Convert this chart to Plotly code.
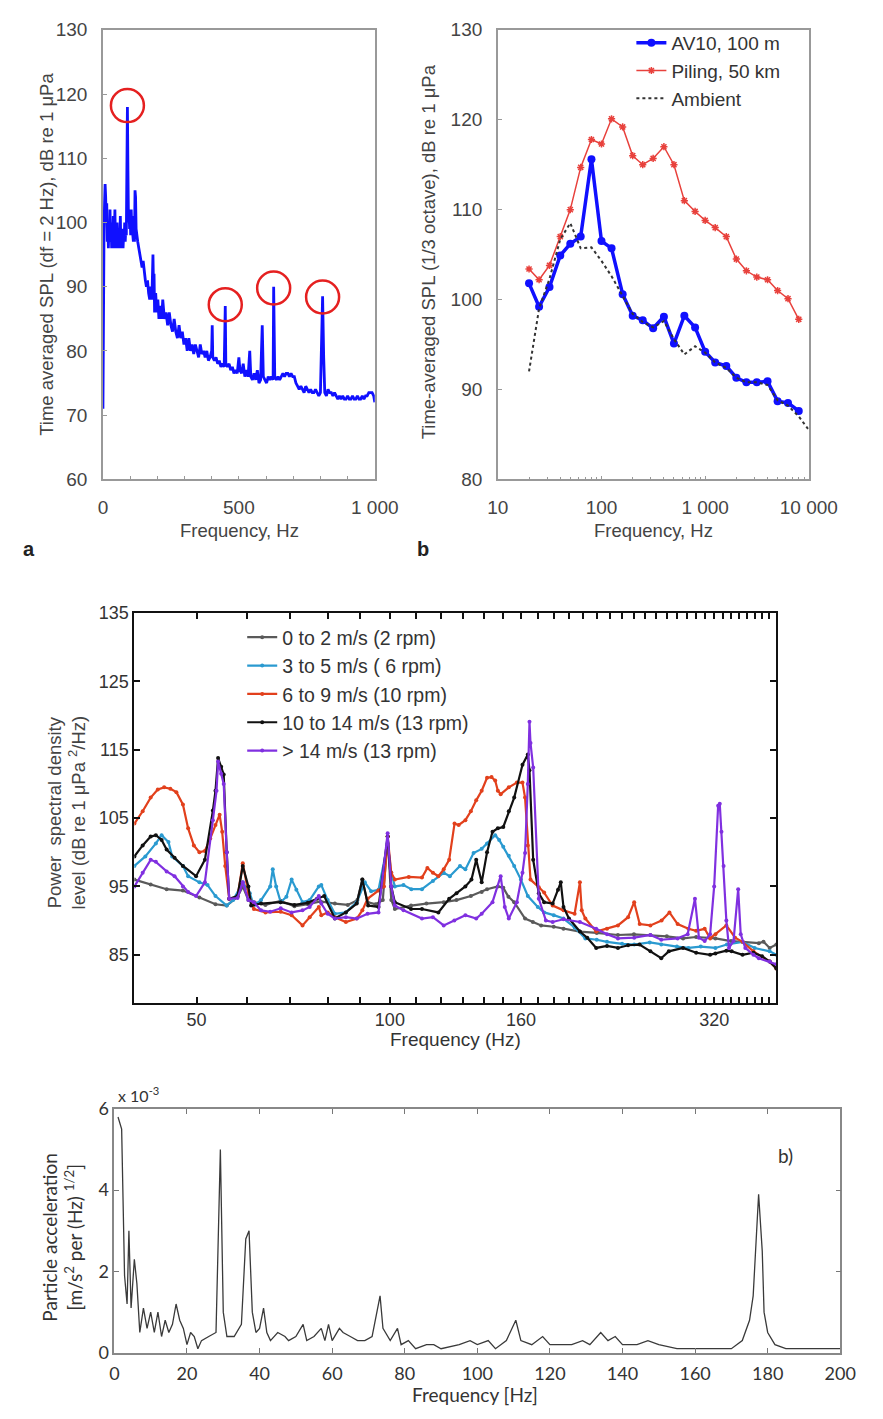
import plotly.graph_objects as go

# page body keeps its default 8px margin, so the figure is 16px smaller than the window
PAGE_W, PAGE_H, BODY_M = 883, 1419, 8
W, H = PAGE_W - 2 * BODY_M, PAGE_H - 2 * BODY_M
def px(x): return (x - BODY_M) / W
def py(y): return 1 - (y - BODY_M) / H

# ---------------- Panel a : narrow-band spectrum ----------------
a_freq = [0, 2, 4, 6, 8, 10, 12, 14, 16, 18, 20, 22, 24, 26, 28, 30, 32, 34, 36, 38, 40, 42, 44, 46, 48, 50,
          52, 54, 56, 58, 60, 62, 64, 66, 68, 70, 72, 74, 76, 78, 80, 82, 84, 86, 88, 90, 92, 94, 96, 98, 100,
          102, 104, 106, 108, 110, 112, 114, 116, 118, 120, 122, 124, 128, 132, 136, 140, 144, 148, 152, 156,
          160, 164, 168, 172, 176, 180, 184, 186, 188, 190, 194, 198, 202, 206, 210, 216, 220, 226, 232, 238,
          244, 250, 256, 262, 268, 274, 280, 286, 292, 298, 304, 310, 316, 322, 328, 334, 340, 346, 352, 358,
          364, 370, 376, 382, 388, 394, 400, 402, 404, 410, 416, 422, 428, 434, 440, 446, 448, 450, 452, 458,
          464, 470, 476, 482, 488, 494, 500, 504, 510, 516, 522, 528, 534, 540, 544, 550, 556, 562, 568, 574,
          580, 586, 590, 596, 602, 608, 614, 620, 626, 628, 632, 638, 644, 650, 656, 662, 668, 674, 680, 686,
          692, 698, 704, 710, 716, 722, 728, 734, 740, 746, 752, 758, 764, 770, 776, 782, 788, 794, 800, 804,
          808, 812, 816, 822, 828, 834, 840, 846, 852, 858, 864, 870, 876, 882, 888, 894, 900, 906, 912, 918,
          924, 930, 936, 942, 948, 954, 960, 966, 972, 978, 984, 990, 996, 1000]
a_spl = [71, 97, 99, 103, 106, 104, 100, 103, 97, 100, 96, 99, 97, 102, 97, 100, 96, 99, 97, 101, 96, 98, 102, 97, 99, 96,
         100, 97, 98, 96, 99, 97, 101, 96, 98, 97, 99, 96, 98, 97, 100, 97, 99, 98, 104, 118, 108, 100, 102, 99, 101,
         98, 102, 99, 101, 98, 97, 99, 97, 105, 104, 99, 98, 97, 96, 95, 94, 93, 94, 92, 91,
         90, 91, 89, 88, 90, 88, 95, 90, 92, 86, 89, 86, 88, 85, 87, 85, 88, 85, 86, 84,
         86, 84, 83, 85, 83, 82, 84, 82, 83, 81, 82, 80, 82, 80, 81, 79.5, 81, 80, 79, 81,
         79.5, 80, 79, 80, 78.5, 79, 80, 84, 79, 78.5, 79, 78, 78.5, 77.5, 78, 77.5, 82, 87, 78, 77.5,
         78, 77, 77.5, 76.5, 77, 76.5, 79, 77, 76.5, 78, 76, 77, 76, 80, 76, 75.5, 76.5, 75.5, 77, 75,
         75.5, 84, 76, 75.5, 75, 76, 75.5, 76, 75.5, 90, 76, 75.5, 76, 75.5, 76, 76.5, 76, 76.5, 76.5, 76,
         76.5, 76, 76, 75, 74.5, 74, 74.5, 74, 73.5, 74.5, 74, 73.5, 74, 73.5, 73.5, 74, 73.5, 73, 73.5, 80,
         88.5, 79, 73.5, 73, 74, 73.5, 73.5, 73, 73.5, 73, 72.5, 73, 72.5, 73, 72.5, 72.5, 73, 72.5, 72.5, 73,
         72.5, 72.5, 73, 72.5, 72.5, 73, 72.5, 73, 73, 73.5, 73.5, 73.5, 73, 72]
a_peak_freq = [90, 450, 628, 808]
a_peak_spl = [118.2, 87.2, 89.8, 88.4]

# ---------------- Panel b : 1/3 octave ----------------
b_bands = [20, 25, 31.5, 40, 50, 63, 80, 100, 125, 160, 200, 250, 315, 400, 500, 630, 800, 1000,
           1250, 1600, 2000, 2500, 3150, 4000, 5000, 6300, 8000]
b_av10 = [101.8, 99.2, 101.4, 104.9, 106.2, 107.0, 115.6, 106.5, 105.7, 100.6, 98.2, 97.7, 96.8, 98.1,
          95.1, 98.2, 96.9, 94.2, 93.0, 92.6, 91.3, 90.8, 90.8, 90.9, 88.7, 88.5, 87.6]
b_piling = [103.4, 102.2, 103.8, 107.0, 110.0, 114.7, 117.8, 117.3, 120.1, 119.2, 116.0, 115.0, 115.7,
            117.0, 115.0, 111.0, 109.8, 108.8, 108.0, 107.0, 104.5, 103.2, 102.5, 102.2, 101.0, 100.1, 97.8]
b_amb_bands = [20, 25, 31.5, 40, 50, 63, 80, 100, 125, 160, 200, 250, 315, 400, 500, 630, 800, 1000,
               1250, 1600, 2000, 2500, 3150, 4000, 5000, 6300, 8000, 10000]
b_ambient = [92.0, 99.0, 102.3, 106.7, 108.5, 105.7, 105.8, 104.3, 102.6, 100.4, 98.4, 97.5, 96.9, 97.6,
             95.6, 93.9, 94.8, 94.1, 93.0, 92.4, 91.3, 90.8, 90.8, 90.5, 88.8, 88.2, 87.0, 85.5]
b_tick_vals = [10, 100, 1000, 10000]
b_tick_text = ["10", "100", "1 000", "10 000"]

# ---------------- Middle panel : PSD per wind speed ----------------
mid_names = ["0 to 2 m/s (2 rpm)", "3 to 5 m/s ( 6 rpm)", "6 to 9 m/s (10 rpm)",
             "10 to 14 m/s (13 rpm)", "> 14 m/s (13 rpm)"]
mid_colors = ["#5a5a5a", "#2a9ad0", "#e2401c", "#111111", "#8030e0"]

g_f = [40, 42.4, 44.9, 47.6, 50.5, 53.5, 55.7, 57.9, 59, 60.2, 61.4, 64, 67.6, 71, 74.5, 78, 82.1, 86, 89,
       90.6, 92.3, 95, 97.5, 99.2, 100.5, 101.8, 107.9, 114, 121.3, 127, 133.7, 139, 141.7, 147.3, 150.2,
       153, 156.2, 162.4, 167, 172, 180, 186.4, 197.7, 210, 226.6, 240, 254.6, 270, 286.2, 300, 321.5,
       340, 354.3, 375.6, 382, 390.5, 400]
g_v = [96, 95.3, 94.6, 94.4, 93.4, 92.4, 92.2, 93.5, 95, 93, 92.7, 92.3, 92.9, 92.1, 92.4, 92.8, 92.5,
       92.3, 93, 96, 92.7, 92.4, 93, 102.3, 93, 91.7, 92.2, 92.5, 92.7, 93, 93.6, 94.2, 94.6, 95, 94.8,
       93.5, 92.7, 90.3, 89.8, 89.3, 89.1, 88.8, 88.4, 88.2, 87.9, 88, 87.9, 87.7, 87.4, 87.6, 87.4,
       87, 86.9, 86.7, 86.9, 86, 86.5]

c_f = [40, 41.6, 43.2, 44.1, 45.2, 45.8, 47.6, 48.5, 50.5, 52, 53.5, 55.7, 57, 59, 60.5, 61.4, 63, 65.1,
       65.7, 66.5, 67.6, 69, 70.3, 71.5, 73.1, 75, 77.5, 78.2, 80, 82.1, 85.4, 88.8, 91.4, 93.5, 96, 99.2,
       100.5, 101.8, 105, 108, 112.2, 116.7, 121.3, 124, 128.6, 131.1, 135, 139, 141.7, 145.9, 148, 150.2,
       153.2, 156.2, 160, 164, 170, 173.9, 180, 186.4, 194, 201.6, 210, 217.9, 230, 240.2, 254, 264.7,
       280, 291.8, 305, 321.5, 335, 354.3, 370, 390.5, 400]
c_v = [98, 99.4, 101.3, 102.5, 101.5, 99.4, 98, 96.5, 95.6, 95.2, 93.6, 92.2, 93, 95.6, 94, 92.2, 93, 95,
       97.5, 95, 92.7, 93.5, 96, 94.5, 92.7, 93, 95, 95.2, 93, 91, 91.2, 92.7, 95.6, 94.3, 94.5, 101.3,
       97, 95, 95.2, 94.6, 94.6, 95.8, 97, 96.5, 98, 97.5, 99.9, 100.5, 101.3, 102.5, 101.8, 100.8,
       99.5, 98, 96, 93.6, 92, 91.2, 90.8, 90.3, 89, 87.4, 87.2, 86.9, 86.6, 86.5, 86.8, 86.5,
       86.2, 86, 86.2, 86, 86.5, 86.9, 86, 85.5, 85]

r_f = [40, 41.2, 42.4, 43.5, 44.5, 45.5, 46.5, 47.6, 48.5, 49.5, 50.5, 51.5, 52.5, 53.5, 54.3, 54.8, 55.4,
       56.2, 57.9, 59, 60.2, 61.4, 64, 67.6, 70.3, 73.1, 75, 77.5, 78.2, 80, 82.1, 85.4, 88.8, 90.6, 92.3,
       96, 97.9, 99.2, 100.5, 101.8, 107, 112.2, 114.4, 116.7, 119, 121.3, 123.7, 126.1, 128, 131.1, 133.7,
       136.3, 139, 141.7, 144, 145.9, 147.3, 148.8, 153.2, 157.7, 160.9, 162.4, 164, 165.6, 170.6, 173.9,
       179.3, 186.4, 194, 197.7, 199, 201.6, 209.6, 217.9, 226.6, 235, 240.2, 245, 254.6, 265, 272.6,
       280.7, 291.8, 300, 309.3, 315.4, 321.5, 334.3, 345, 354.3, 368.4, 390.5, 400]
r_v = [104.2, 106, 108, 109.2, 109.5, 109.3, 108.8, 107, 103.5, 101, 100, 100.2, 102, 104, 105.5, 103, 98,
       93.2, 93.5, 98.4, 94, 91.7, 91.2, 91.3, 90.8, 89.3, 90.5, 92, 90.8, 91.2, 90.5, 89.8, 90.3, 91.5, 93.2,
       94.4, 95, 102.3, 97, 96, 96.4, 96.3, 97.7, 97, 96.5, 97.5, 98.9, 104.2, 104, 104.7, 106,
       107.6, 109, 110.9, 111, 110.5, 109, 108.5, 109.5, 110.2, 110.2, 108, 101, 96, 94.9, 94.1,
       92.2, 91.5, 91, 95.6, 91.5, 90.3, 88.4, 88.8, 89.3, 90.5, 92.7, 89.5, 89.3, 90, 91.2,
       89.5, 88.8, 88.5, 88.8, 87.4, 88, 89.3, 87.5, 86.9, 85.5, 84, 83]

k_f = [40, 41.2, 42.4, 43.2, 44.1, 44.9, 46.2, 47.6, 49.9, 51.5, 53, 53.5, 54, 54.6, 55.1, 55.7, 56.2, 57.9,
       59, 60.2, 60.8, 63, 67.6, 71, 74.5, 77, 79, 82.1, 85.4, 88.8, 90.6, 92.5, 96, 99.2, 100.5, 101.8,
       107.9, 112.2, 119, 123.7, 127, 131.1, 134, 136.3, 139, 141.7, 144.5, 147.3, 150.2, 153.2, 156.2,
       160.9, 164, 165, 167.2, 170.6, 173.9, 179.3, 182.8, 184.6, 186.4, 190.1, 197.7, 203, 209.6, 217.9,
       226.6, 235, 244.9, 254.6, 264.7, 272, 286.2, 300, 315.4, 321.5, 334.3, 340.8, 354.3, 368.4, 380,
       390.5, 400]
k_v = [99.4, 101, 102.3, 102.5, 101.8, 100.4, 99.2, 98, 96.5, 98.9, 106.1, 109, 113.8, 112.5, 111.4, 100,
       93.2, 93.6, 98, 95, 92.2, 92.5, 92.7, 92.3, 92.6, 93.2, 93.6, 90.3, 91.2, 92.5, 96, 92.2, 92,
       102.3, 95, 92.7, 91.7, 91.7, 91.2, 93.2, 94, 95, 96, 98.9, 95.6, 100, 103, 103.5, 103.7, 106,
       108, 112.8, 114.3, 112, 98.9, 94, 92.7, 92.5, 94.5, 95.6, 92, 90.3, 88.4, 87.5, 86, 86.3,
       86, 86.4, 86.5, 85.5, 84.5, 85.5, 86, 85.3, 85, 85.2, 85.6, 85.5, 85, 85.3, 84.8, 84, 83]

p_f = [40, 41.2, 42.4, 43.2, 44.9, 46.2, 47.6, 48.5, 49.9, 51.5, 53, 53.7, 54, 54.6, 55.1, 55.7, 56.2,
       57.9, 59, 60.2, 61.4, 63, 65.1, 67.6, 70.3, 73.1, 75, 77.5, 78.2, 80, 82.1, 85.4, 88.8, 92.3, 96,
       99.2, 100.5, 101.8, 105, 112.2, 116.7, 121.3, 126, 131.1, 136.3, 139, 144.5, 148.8, 151, 153.2,
       157.7, 160.9, 162.4, 164, 165, 165.6, 167.2, 170.6, 175, 179.3, 186.4, 197.7, 209.6, 217.9, 226.6,
       240.2, 254.6, 264.7, 280.7, 291, 298.7, 303, 309.3, 315.4, 320, 324.6, 326.5, 328.5, 331, 334.3,
       337.5, 343, 348.8, 352, 357.8, 368.4, 375.6, 390.5, 400]
p_v = [95, 97, 98.9, 98.6, 97.2, 96.5, 95, 94.2, 93.6, 95.6, 104.7, 109, 113.3, 111.5, 110, 100, 93.2,
       93.3, 95.6, 93, 92.7, 91.5, 91.3, 91.8, 91.2, 91.5, 92, 93.6, 92.5, 91, 90.3, 90.5, 90.3, 91, 91.2,
       102.8, 95, 92.2, 91.5, 90.3, 90.5, 89.3, 90, 90.8, 90.3, 91, 92.7, 96.5, 92, 90.3,
       92.7, 97, 99.9, 110, 119.1, 116, 112.4, 93.2, 90, 89.8, 90.2, 89.8, 88.8, 88, 87.4,
       87.5, 87.9, 87.2, 87.4, 88, 93.2, 87.5, 87, 88, 95, 106.8, 107.1, 103, 98, 90,
       86, 87, 94.6, 88, 86, 85, 84.5, 84, 83.6]

mid_freqs = [g_f, c_f, r_f, k_f, p_f]
mid_levels = [g_v, c_v, r_v, k_v, p_v]
mid_tick_step_vals = list(range(40, 401, 10))
mid_tick_labels = [50, 100, 160, 320]

# ---------------- Bottom panel : particle acceleration ----------------
acc_f = [1, 2, 2.8, 3.5, 4, 4.6, 5.5, 6.2, 7, 8, 9, 10, 11, 12, 13, 14, 15, 16, 17, 18, 19, 20, 21, 22, 23,
         24, 26, 28, 29.2, 30, 31, 33, 35, 36.2, 37.1, 38, 39, 40, 41.1, 42, 43, 45, 47, 48, 50, 52, 53, 55,
         57, 58, 59, 60, 62, 63, 65, 67, 69, 71, 73.2, 74, 76, 78, 79, 81, 83, 86, 88, 90, 95, 98, 100, 103,
         105, 108, 110.6, 112, 115, 118, 120, 123, 126, 129, 131, 134, 136, 138, 140, 144, 147, 150, 155,
         160, 165, 170, 173, 175, 176, 177, 177.5, 178.5, 179, 180, 182, 185, 190, 195, 200]
acc_e3 = [5.8, 5.5, 1.9, 1.2, 3.0, 1.1, 2.3, 1.7, 0.5, 1.1, 0.6, 1.0, 0.5, 1.0, 0.4, 0.8, 0.5, 0.7, 1.2, 0.8,
          0.6, 0.2, 0.5, 0.4, 0.1, 0.3, 0.4, 0.5, 5.0, 1.0, 0.4, 0.4, 0.7, 2.8, 3.0, 1.0, 0.5, 0.6, 1.1,
          0.5, 0.3, 0.5, 0.4, 0.3, 0.4, 0.7, 0.3, 0.4, 0.6, 0.3, 0.7, 0.3, 0.6, 0.5, 0.4, 0.3, 0.3, 0.4,
          1.4, 0.6, 0.3, 0.6, 0.2, 0.3, 0.1, 0.2, 0.2, 0.1, 0.2, 0.3, 0.2, 0.3, 0.1, 0.3, 0.8, 0.3, 0.2,
          0.4, 0.2, 0.2, 0.2, 0.3, 0.2, 0.5, 0.3, 0.4, 0.2, 0.2, 0.3, 0.2, 0.1, 0.1, 0.1, 0.1, 0.3, 0.8,
          1.4, 3.0, 3.9, 2.5, 1.0, 0.5, 0.2, 0.1, 0.1, 0.1, 0.1]

fig = go.Figure()

# panel a
fig.add_trace(go.Scatter(x=a_freq, y=a_spl, mode="lines", line=dict(color="#1010ff", width=2.8),
                         xaxis="x", yaxis="y", showlegend=False))
fig.add_trace(go.Scatter(x=a_peak_freq, y=a_peak_spl, mode="markers",
                         marker=dict(symbol="circle-open", size=33, color="#e52020", line=dict(width=2.5)),
                         xaxis="x", yaxis="y", showlegend=False))

# panel b
fig.add_trace(go.Scatter(x=b_bands, y=b_av10, mode="lines+markers", name="AV10, 100 m",
                         line=dict(color="#1010ff", width=3.5), marker=dict(size=8, color="#1010ff"),
                         xaxis="x2", yaxis="y2", legend="legend"))
fig.add_trace(go.Scatter(x=b_bands, y=b_piling, mode="lines+markers", name="Piling, 50 km",
                         line=dict(color="#e8413c", width=1.5),
                         marker=dict(symbol="asterisk-open", size=6, color="#e8413c", line=dict(width=1.5, color="#e8413c")),
                         xaxis="x2", yaxis="y2", legend="legend"))
fig.add_trace(go.Scatter(x=b_amb_bands, y=b_ambient, mode="lines", name="Ambient",
                         line=dict(color="#333333", width=2, dash="dot"),
                         xaxis="x2", yaxis="y2", legend="legend"))

# middle
for name, col, fx, lv in zip(mid_names, mid_colors, mid_freqs, mid_levels):
    fig.add_trace(go.Scatter(x=fx, y=lv, mode="lines+markers", name=name,
                             line=dict(color=col, width=2.2), marker=dict(size=4, color=col),
                             xaxis="x3", yaxis="y3", legend="legend2"))

# bottom
fig.add_trace(go.Scatter(x=acc_f, y=acc_e3, mode="lines", line=dict(color="#3a3a3a", width=1.3),
                         xaxis="x4", yaxis="y4", showlegend=False))

TOPFONT = dict(family="Liberation Sans, Arial, sans-serif", size=19, color="#444444")
MIDFONT = dict(family="Liberation Sans, Arial, sans-serif", size=18, color="#333333")
BOTFONT = dict(family="Lato, Open Sans, sans-serif", size=18, color="#333333")

a_xticks = list(range(0, 1001, 100))
a_xtext = ["0" if v == 0 else ("500" if v == 500 else ("1 000" if v == 1000 else "")) for v in a_xticks]

minor_log = [m * 10 ** e for e in range(1, 4) for m in range(2, 10)]

fig.update_layout(
    width=W, height=H, margin=dict(l=0, r=0, t=0, b=0),
    paper_bgcolor="white", plot_bgcolor="white",
    xaxis=dict(domain=[px(96), px(381)], range=[0, 1000], tickvals=a_xticks, ticktext=a_xtext,
               ticks="inside", ticklen=4, tickcolor="#999", showline=True, linecolor="#999", linewidth=1.5,
               mirror=True, showgrid=False, zeroline=False, tickfont=TOPFONT, ticklabelstandoff=10,
               anchor="y"),
    yaxis=dict(domain=[py(475), py(18)], range=[60, 130], dtick=10, ticks="inside", ticklen=4,
               tickcolor="#999", showline=True, linecolor="#999", linewidth=1.5, mirror=True,
               showgrid=False, zeroline=False, tickfont=TOPFONT, ticklabelstandoff=10, anchor="x"),
    xaxis2=dict(domain=[px(510), px(836)], type="log", range=[1, 4], tickvals=b_tick_vals,
                ticktext=b_tick_text, ticks="inside", ticklen=4, tickcolor="#999",
                minor=dict(tickvals=minor_log, ticks="inside", ticklen=3, tickcolor="#999"),
                showline=True, linecolor="#999", linewidth=1.5, mirror=True, showgrid=False,
                zeroline=False, tickfont=TOPFONT, ticklabelstandoff=10, anchor="y2"),
    yaxis2=dict(domain=[py(475), py(18)], range=[80, 130], dtick=10, ticks="inside", ticklen=4,
                tickcolor="#999", showline=True, linecolor="#999", linewidth=1.5, mirror=True,
                showgrid=False, zeroline=False, tickfont=TOPFONT, ticklabelstandoff=10, anchor="x2"),
    xaxis3=dict(domain=[px(129), px(802)], type="log", range=[1.60206, 2.60206],
                tickvals=mid_tick_step_vals,
                ticktext=[str(v) if v in mid_tick_labels else "" for v in mid_tick_step_vals],
                ticks="inside", ticklen=6, tickcolor="#111", tickwidth=1.5, showline=True,
                linecolor="#111", linewidth=2, mirror="ticks", showgrid=False, zeroline=False,
                tickfont=MIDFONT, anchor="y3"),
    yaxis3=dict(domain=[py(1007), py(611)], range=[78, 135], tickvals=[85, 95, 105, 115, 125, 135],
                ticks="inside", ticklen=6, tickcolor="#111", tickwidth=1.5, showline=True,
                linecolor="#111", linewidth=2, mirror="ticks", showgrid=False, zeroline=False,
                tickfont=MIDFONT, anchor="x3"),
    xaxis4=dict(domain=[px(108), px(869)], range=[0, 200], dtick=20, ticks="inside", ticklen=5,
                tickcolor="#777", showline=True, linecolor="#888", linewidth=1.5, mirror="ticks",
                showgrid=False, zeroline=False, tickfont=BOTFONT, ticklabelstandoff=4, anchor="y4"),
    yaxis4=dict(domain=[py(1363), py(1115)], range=[0, 6], dtick=2, ticks="inside", ticklen=5,
                tickcolor="#777", showline=True, linecolor="#888", linewidth=1.5, mirror="ticks",
                showgrid=False, zeroline=False, tickfont=BOTFONT, anchor="x4"),
    legend=dict(x=px(650), y=py(12), xanchor="left", yanchor="top", bgcolor="rgba(0,0,0,0)",
                font=dict(family="Liberation Sans, Arial, sans-serif", size=19, color="#333")),
    legend2=dict(x=px(242), y=py(616), xanchor="left", yanchor="top", bgcolor="rgba(0,0,0,0)",
                 font=dict(family="Liberation Sans, Arial, sans-serif", size=19.5, color="#333")),
)

def ann(x, y, text, font, angle=0, xanchor="center"):
    fig.add_annotation(x=px(x), y=py(y), xref="paper", yref="paper", text=text, showarrow=False,
                       textangle=angle, font=font, xanchor=xanchor, yanchor="middle")

tf = dict(family="Liberation Sans, Arial, sans-serif", size=18.5, color="#444")
ann(36, 246, "Time averaged SPL (df = 2 Hz), dB re 1 μPa", tf, -90)
ann(239, 527, "Frequency, Hz", tf)
ann(18, 546, "<b>a</b>", dict(family="Liberation Sans, Arial", size=20, color="#222"))
ann(437, 244, "Time-averaged SPL (1/3 octave), dB re 1 μPa", tf, -90)
ann(673, 527, "Frequency, Hz", tf)
ann(432, 546, "<b>b</b>", dict(family="Liberation Sans, Arial", size=20, color="#222"))

mf = dict(family="Liberation Sans, Arial, sans-serif", size=18.5, color="#444")
ann(58, 814, "Power  spectral density<br>level (dB re 1 μPa <sup>2</sup>/Hz)", mf, -90)
ann(466, 1044, "Frequency (Hz)", dict(family="Liberation Sans, Arial", size=19, color="#333"))

bf = dict(family="Lato, Open Sans, sans-serif", size=19, color="#333")
ann(53, 1245, "Particle acceleration<br>[m/s<sup>2</sup> per (Hz) <sup>1/2</sup>]", bf, -90)
ann(486, 1405, "Frequency [Hz]", bf)
ann(110, 1100, "x 10<sup>-3</sup>", dict(family="Lato, Open Sans, sans-serif", size=16, color="#333"), 0, "left")
ann(812, 1162, "b)", bf)

fig.write_html("out.html", config={"displayModeBar": False})
